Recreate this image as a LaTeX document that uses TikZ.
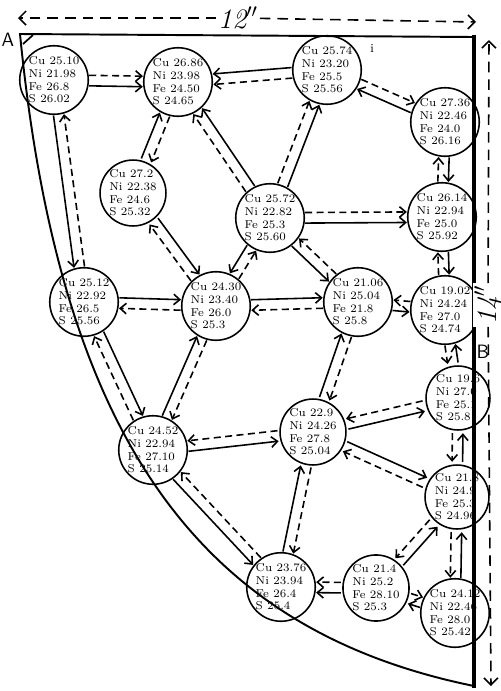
\documentclass[tikz,border=0pt]{standalone}
\usepackage{tikz}
\usetikzlibrary{calc,arrows.meta}
\newcommand{\assay}[4]{Cu #1\\Ni #2\\Fe #3\\S #4}
\newcommand{\flow}[4]{\draw[#1] ($(#2)!#4!90:(#3)$) -- ($(#3)!#4!-90:(#2)$);}

\begin{document}
\begin{tikzpicture}[
  x=0.02cm, y=-0.02cm,
  sample/.style={draw, circle, line width=0.9pt, minimum size=1.2cm, inner sep=0pt, align=left, font=\fontsize{6.5}{7.2}\selectfont},
  arr/.style={line width=0.9pt, -{Straight Barb[length=3.5pt,width=6pt]}, shorten <=20pt, shorten >=20pt},
  sol/.style={arr},
  das/.style={arr, dash pattern=on 4pt off 2.5pt},
  dim/.style={line width=0.9pt, dash pattern=on 6pt off 4pt, -{Straight Barb[length=4pt,width=8pt]}},
  corner/.style={font=\fontsize{11}{13}\selectfont\sffamily}
]
\useasboundingbox (0,0) rectangle (501,691);

% Samples
\node[sample] (s1) at (54,80) {\assay{25.10}{21.98}{26.8}{26.02}};
\node[sample] (s2) at (178,82) {\assay{26.86}{23.98}{24.50}{24.65}};
\node[sample] (s3) at (327,70) {\assay{25.74}{23.20}{25.5}{25.56}};
\node[sample] (s4) at (445,122) {\assay{27.36}{22.46}{24.0}{26.16}};
\node[sample] (s5) at (133,193) {\assay{27.2}{22.38}{24.6}{25.32}};
\node[sample] (s6) at (270,218) {\assay{25.72}{22.82}{25.3}{25.60}};
\node[sample] (s7) at (442,217) {\assay{26.14}{22.94}{25.0}{25.92}};
\node[sample] (s8) at (84,302) {\assay{25.12}{22.92}{26.5}{25.56}};
\node[sample] (s9) at (216,306) {\assay{24.30}{23.40}{26.0}{25.3}};
\node[sample] (s10) at (358,302) {\assay{21.06}{25.04}{21.8}{25.8}};
\node[sample] (s11) at (445,310) {\assay{19.02}{24.24}{27.0}{24.74}};
\node[sample] (s12) at (458,398) {\assay{19.6}{27.0}{25.1}{25.8}};
\node[sample] (s13) at (153,450) {\assay{24.52}{22.94}{27.10}{25.14}};
\node[sample] (s14) at (313,432) {\assay{22.9}{24.26}{27.8}{25.04}};
\node[sample] (s15) at (457,497) {\assay{21.8}{24.9}{25.3}{24.96}};
\node[sample] (s16) at (281,587) {\assay{23.76}{23.94}{26.4}{25.4}};
\node[sample] (s17) at (376,588) {\assay{21.4}{25.2}{28.10}{25.3}};
\node[sample] (s18) at (455,613) {\assay{24.12}{22.46}{28.0}{25.42}};

% Outline of the slab
\draw[line width=1.1pt] (474,37) -- (20,34) .. controls (60,440) and (200,630) .. (474,686);
\draw[line width=2.2pt] (474,35) -- (474,688);
\draw[line width=1pt] (33,35) -- (23,44);
\node[corner] (ptA) at (8,40) {A};
\node[corner] (ptB) at (483,352) {B};
\node[font=\scriptsize] (tick) at (372,48) {i};

% Dimensions
\node[font=\fontsize{16}{18}\selectfont\itshape, fill=white, inner sep=1pt] (wd) at (238,18) {12$''$};
\coordinate (wdl) at (18,18);
\coordinate (wdr) at (476,22);
\draw[dim] (wd) -- (wdl);
\draw[dim] (wd) -- (wdr);
\node[font=\fontsize{16}{18}\selectfont\itshape, fill=white, inner sep=1pt, rotate=90] (ht) at (488,305) {14$''$};
\coordinate (htt) at (489,40);
\coordinate (htb) at (491,686);
\draw[dim] (ht) -- (htt);
\draw[dim] (ht) -- (htb);

% Arrows, top row
\flow{das}{s1}{s2}{3pt}   \flow{sol}{s1}{s2}{-3pt}
\flow{sol}{s3}{s2}{-3pt}  \flow{das}{s3}{s2}{3pt}
\flow{das}{s3}{s4}{3pt}   \flow{sol}{s4}{s3}{3pt}

% Arrows, right side
\flow{das}{s7}{s4}{3pt}   \flow{sol}{s4}{s7}{3pt}
\flow{das}{s11}{s7}{3pt}  \flow{sol}{s7}{s11}{3pt}
\flow{das}{s11}{s10}{-3pt} \flow{sol}{s10}{s11}{-3pt}
\flow{das}{s11}{s12}{-3pt} \flow{sol}{s12}{s11}{-3pt}
\flow{das}{s12}{s15}{-3pt} \flow{sol}{s15}{s12}{-3pt}
\flow{das}{s15}{s18}{-3pt} \flow{sol}{s18}{s15}{-3pt}

% Arrows, bottom
\flow{das}{s17}{s18}{3pt}  \flow{sol}{s18}{s17}{3pt}
\flow{das}{s17}{s16}{-3pt} \flow{sol}{s17}{s16}{3pt}
\flow{das}{s15}{s17}{-3pt} \flow{sol}{s17}{s15}{-3pt}
\flow{das}{s12}{s14}{-3pt} \flow{sol}{s14}{s12}{-3pt}
\flow{sol}{s14}{s15}{3pt}  \flow{das}{s15}{s14}{3pt}
\flow{das}{s14}{s13}{-3pt} \flow{sol}{s13}{s14}{-3pt}
\flow{sol}{s16}{s14}{3pt}  \flow{das}{s14}{s16}{3pt}
\flow{sol}{s13}{s16}{-3pt} \flow{das}{s16}{s13}{-3pt}

% Arrows, left and middle
\flow{sol}{s1}{s8}{-3pt}   \flow{das}{s8}{s1}{-3pt}
\flow{sol}{s8}{s13}{3pt}   \flow{das}{s13}{s8}{3pt}
\flow{sol}{s13}{s9}{3pt}   \flow{das}{s9}{s13}{3pt}
\flow{sol}{s8}{s9}{3pt}    \flow{das}{s9}{s8}{3pt}
\flow{sol}{s9}{s10}{3pt}   \flow{das}{s10}{s9}{3pt}
\flow{sol}{s14}{s10}{3pt}  \flow{das}{s10}{s14}{3pt}
\flow{sol}{s6}{s10}{-3pt}  \flow{das}{s10}{s6}{-3pt}
\flow{das}{s6}{s7}{3pt}    \flow{sol}{s6}{s7}{-3pt}
\flow{das}{s6}{s3}{3pt}    \flow{sol}{s6}{s3}{-3pt}
\flow{das}{s6}{s2}{3pt}    \flow{sol}{s6}{s2}{-3pt}
\flow{sol}{s5}{s2}{3pt}    \flow{das}{s2}{s5}{3pt}
\flow{sol}{s5}{s9}{3pt}    \flow{das}{s9}{s5}{3pt}
\flow{sol}{s6}{s9}{-3pt}   \flow{das}{s9}{s6}{-3pt}
\end{tikzpicture}
\end{document}
